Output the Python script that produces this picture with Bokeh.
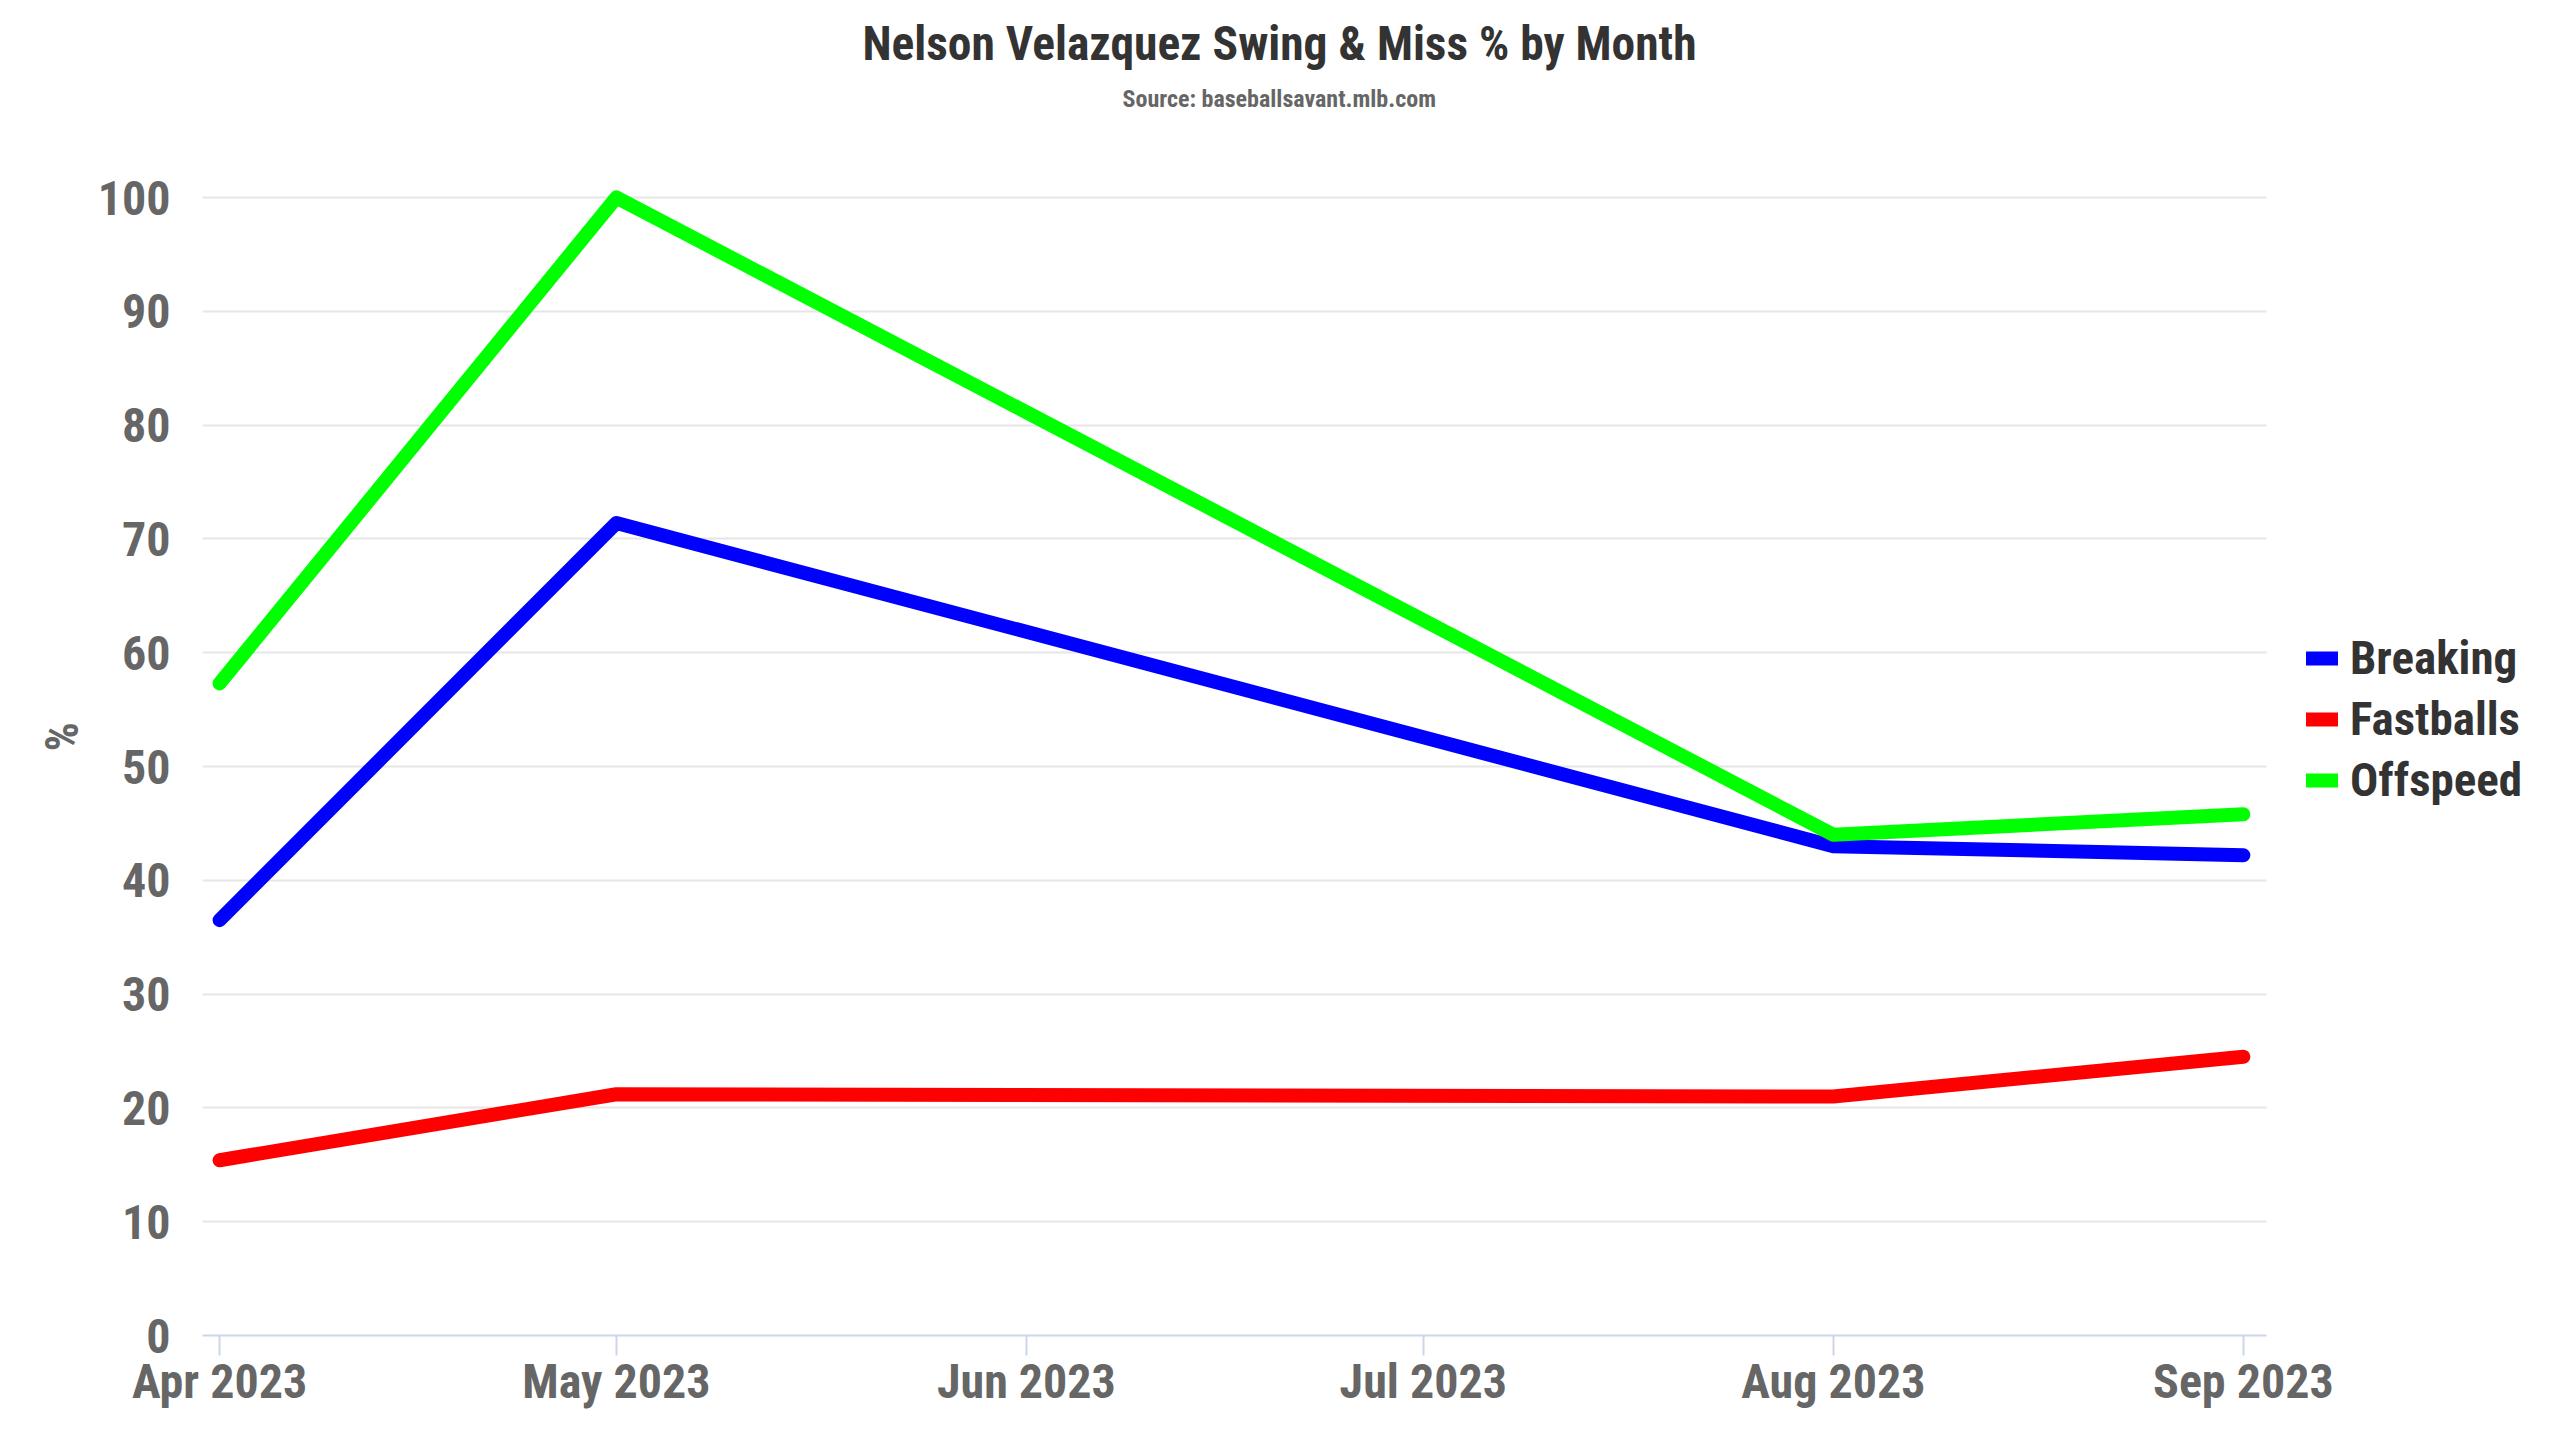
import pandas as pd
from bokeh.plotting import figure
from bokeh.models import (Range1d, Legend, LegendItem, Label, Title, FixedTicker,
                          DatetimeTickFormatter, ColumnDataSource)
from bokeh.embed import file_html
from bokeh.resources import INLINE

# ---- data ----
title_text = "Nelson Velazquez Swing & Miss % by Month"
subtitle_text = "Source: baseballsavant.mlb.com"
y_label = "%"
month_ticks = ["2023-04-01", "2023-05-01", "2023-06-01", "2023-07-01", "2023-08-01", "2023-09-01"]
dates = ["2023-04-01", "2023-05-01", "2023-08-01", "2023-09-01"]
breaking = [36.5, 71.4, 43.0, 42.2]
fastballs = [15.4, 21.2, 21.0, 24.5]
offspeed = [57.3, 100.0, 44.0, 45.8]
series_names = ["Breaking", "Fastballs", "Offspeed"]
series_colors = ["#0000ff", "#ff0000", "#00ff00"]
y_ticks = [0, 10, 20, 30, 40, 50, 60, 70, 80, 90, 100]

FONT = "'Roboto Condensed', 'Liberation Sans Narrow', Roboto"

# ---- layout geometry (pixels) ----
W, H = 2544, 1424
PLOT_L, PLOT_R, PLOT_T, PLOT_B = 202, 2266, 197, 1335

x_dates = pd.to_datetime(dates)
tick_dt = pd.to_datetime(month_ticks)
tick_ms = [t.value / 1e6 for t in tick_dt]
x0 = (tick_dt[0] - pd.Timedelta(hours=31)).value / 1e6
x1 = (tick_dt[-1] + pd.Timedelta(hours=42)).value / 1e6
y0, y1 = 0.0, float(y_ticks[-1])


def px_x(px):
    return x0 + (px - PLOT_L) / (PLOT_R - PLOT_L) * (x1 - x0)


def px_y(py):
    return y0 + (PLOT_B - py) / (PLOT_B - PLOT_T) * (y1 - y0)


# the frame extends to the right and top canvas edges so that the
# legend and the titles can live inside it
p = figure(width=W, height=H, x_axis_type="datetime",
           output_backend="svg", toolbar_location=None,
           x_range=Range1d(x0, px_x(W)),
           y_range=Range1d(y0, px_y(0)),
           min_border_left=PLOT_L, min_border_right=0, min_border_top=0,
           min_border_bottom=H - PLOT_B)
p.background_fill_color = "white"
p.border_fill_color = "white"
p.outline_line_color = None

renderers = []
for name, vals, col in zip(series_names, [breaking, fastballs, offspeed], series_colors):
    src = ColumnDataSource(dict(x=x_dates, y=vals))
    r = p.line("x", "y", source=src, line_color=col, line_width=14,
               line_cap="round", line_join="round")
    renderers.append((name, r))

# axes
xa = p.xaxis[0]
xa.bounds = (x0, x1)
xa.ticker = FixedTicker(ticks=tick_ms)
fmt = "%b %Y"
xa.formatter = DatetimeTickFormatter(microseconds=fmt, milliseconds=fmt, seconds=fmt,
                                     minsec=fmt, minutes=fmt, hourmin=fmt, hours=fmt,
                                     days=fmt, months=fmt, years=fmt)
xa.axis_line_color = "#ccd6eb"
xa.axis_line_width = 2
xa.major_tick_line_color = "#ccd6eb"
xa.major_tick_line_width = 2
xa.major_tick_out = 20
xa.major_tick_in = 0
xa.minor_tick_line_color = None
xa.major_label_standoff = -3
xa.major_label_text_font = FONT
xa.major_label_text_font_size = "48px"
xa.major_label_text_font_style = "bold"
xa.major_label_text_color = "#666666"

ya = p.yaxis[0]
ya.bounds = (y0, y1)
ya.ticker = FixedTicker(ticks=y_ticks)
ya.axis_line_color = None
ya.major_tick_line_color = None
ya.major_tick_out = 0
ya.major_tick_in = 0
ya.minor_tick_line_color = None
ya.minor_tick_out = 0
ya.major_label_standoff = 32
ya.major_label_text_font = FONT
ya.major_label_text_font_size = "48px"
ya.major_label_text_font_style = "bold"
ya.major_label_text_color = "#666666"

# y axis title placed as a side title so it can sit off-centre like the original
p.add_layout(Title(text=y_label, align="left", offset=PLOT_B - 751,
                   vertical_align="middle", standoff=10,
                   text_font=FONT, text_font_size="46px", text_font_style="bold",
                   text_color="#666666"), "left")

p.xgrid.grid_line_color = None
p.ygrid.grid_line_color = "#e6e6e6"
p.ygrid.grid_line_width = 2
p.ygrid.cross_bounds = (x0, x1)
p.ygrid.bounds = (y0, y1)

# legend (frame-relative pixel position, bottom-left corner)
legend = Legend(items=[LegendItem(label=n, renderers=[r]) for n, r in renderers],
                location=(2306 - PLOT_L, PLOT_B - 807), orientation="vertical",
                glyph_width=32, glyph_height=54, label_standoff=12, spacing=6,
                padding=0, margin=0,
                border_line_alpha=0, background_fill_alpha=0,
                label_text_font=FONT, label_text_font_size="47px",
                label_text_font_style="bold", label_text_color="#333333",
                label_height=54)
p.add_layout(legend, "center")

# titles
p.add_layout(Label(x=px_x(862), y=px_y(43), text=title_text,
                   text_align="left", text_baseline="middle",
                   text_font=FONT, text_font_size="47.5px", text_font_style="bold",
                   text_color="#333333"))
p.add_layout(Label(x=px_x(1122), y=px_y(98), text=subtitle_text,
                   text_align="left", text_baseline="middle",
                   text_font=FONT, text_font_size="24px", text_font_style="bold",
                   text_color="#666666"))

open("out.html", "w").write(file_html(p, INLINE))
